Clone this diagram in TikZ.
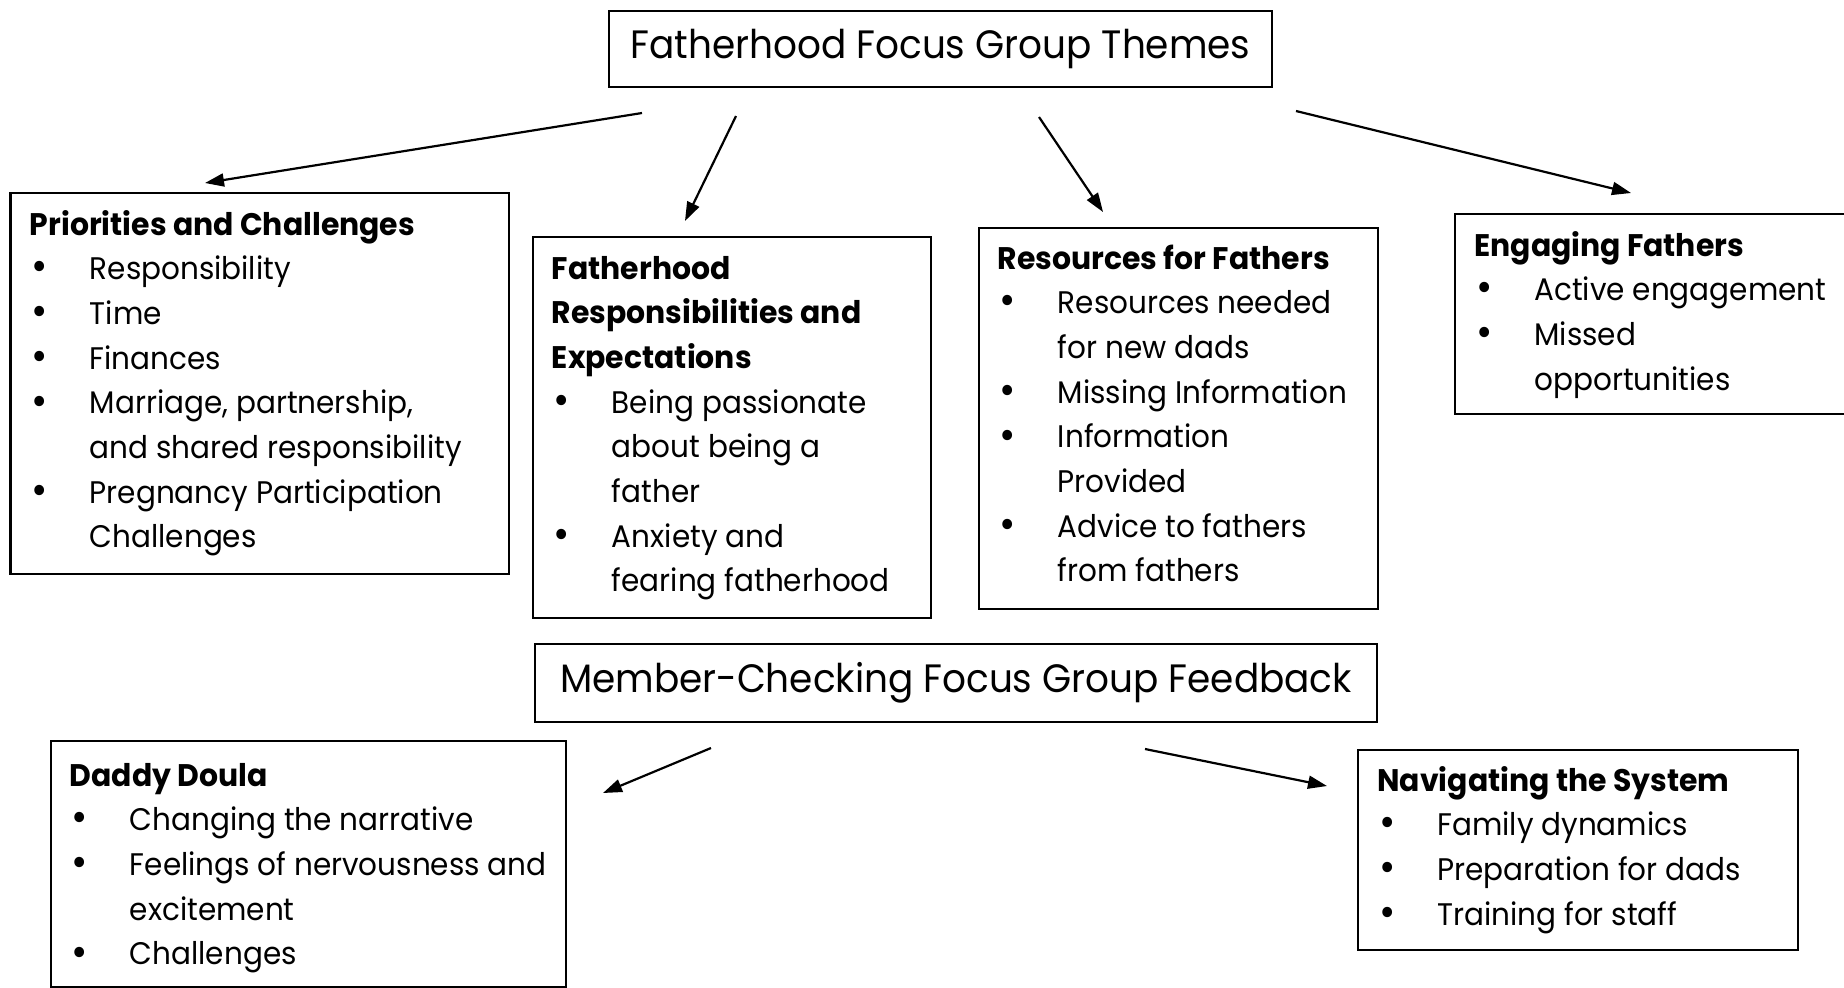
\documentclass[tikz,border=0pt]{standalone}
\usepackage{fontspec}
\setmainfont{Poppins}[FakeStretch=0.945, BoldFeatures={FakeStretch=0.958}]
\usetikzlibrary{arrows.meta,calc}
% one unit = one pixel of a 1844 x 987 canvas, y running downwards
\tikzset{
  x=0.5pt, y=-0.5pt,
  box/.style={draw=black, line width=1.1pt, rectangle, inner sep=0pt, anchor=north west},
  headbox/.style={draw=black, line width=1.1pt, rectangle, inner sep=0pt,
    font=\fontsize{19.8}{23}\selectfont},
  blocktext/.style={inner sep=0pt, anchor=base west, font=\fontsize{15.6}{22.35}\selectfont},
  arr/.style={line width=1.1pt, -{Triangle[length=9.5pt,width=6.5pt]}},
}
\newcommand{\bul}{\makebox[30pt][l]{\hspace{0.8pt}\raisebox{-0.6pt}{\fontsize{21}{0}\selectfont\textbullet}}}
\newcommand{\hd}[1]{\multicolumn{2}{@{}l@{}}{\bfseries #1}}

\begin{document}
\begin{tikzpicture}
\useasboundingbox (0,0) rectangle (1844,987);

% main theme headers
\node[headbox, minimum width=331.5pt, minimum height=38.2pt] (T) at (940.5,48.8)
  {Fatherhood Focus Group Themes};
\node[headbox, minimum width=421pt, minimum height=39pt] (M) at (956,683)
  {Member-Checking Focus Group Feedback};

% theme boxes
\node[box, minimum width=249.3pt, minimum height=190.5pt] (P) at (9.4,192) {};
\node[box, minimum width=199.25pt, minimum height=190.5pt] (F) at (531.5,236) {};
\node[box, minimum width=199.75pt, minimum height=190.5pt] (R) at (977.5,227) {};
\node[box, minimum width=200pt, minimum height=100pt] (E) at (1454,213) {};
\node[box, minimum width=257.75pt, minimum height=123pt] (D) at (49.5,740) {};
\node[box, minimum width=220pt, minimum height=100pt] (N) at (1357,749) {};

% box contents
\node[blocktext] (Pt) at ($(P.north west)+(20,43)$) {%
  \begin{tabular}[t]{@{}l@{}l@{}}
  \hd{Priorities and Challenges}\\
  \bul & Responsibility\\
  \bul & Time\\
  \bul & Finances\\
  \bul & Marriage, partnership,\\
       & and shared responsibility\\
  \bul & Pregnancy Participation\\
       & Challenges
  \end{tabular}};

\node[blocktext] (Ft) at ($(F.north west)+(20,43)$) {%
  \begin{tabular}[t]{@{}l@{}l@{}}
  \hd{Fatherhood}\\
  \hd{Responsibilities and}\\
  \hd{Expectations}\\
  \bul & Being passionate\\
       & about being a\\
       & father\\
  \bul & Anxiety and\\
       & fearing fatherhood
  \end{tabular}};

\node[blocktext] (Rt) at ($(R.north west)+(20,42)$) {%
  \begin{tabular}[t]{@{}l@{}l@{}}
  \hd{Resources for Fathers}\\
  \bul & Resources needed\\
       & for new dads\\
  \bul & Missing Information\\
  \bul & Information\\
       & Provided\\
  \bul & Advice to fathers\\
       & from fathers
  \end{tabular}};

\node[blocktext] (Et) at ($(E.north west)+(20,43)$) {%
  \begin{tabular}[t]{@{}l@{}l@{}}
  \hd{Engaging Fathers}\\
  \bul & Active engagement\\
  \bul & Missed\\
       & opportunities
  \end{tabular}};

\node[blocktext] (Dt) at ($(D.north west)+(20,46)$) {%
  \begin{tabular}[t]{@{}l@{}l@{}}
  \hd{Daddy Doula}\\
  \bul & Changing the narrative\\
  \bul & Feelings of nervousness and\\
       & excitement\\
  \bul & Challenges
  \end{tabular}};

\node[blocktext] (Nt) at ($(N.north west)+(20,42)$) {%
  \begin{tabular}[t]{@{}l@{}l@{}}
  \hd{Navigating the System}\\
  \bul & Family dynamics\\
  \bul & Preparation for dads\\
  \bul & Training for staff
  \end{tabular}};

% connector end points
\coordinate (a1s) at (642,113);  \coordinate (a1e) at (205,183);
\coordinate (a2s) at (736,116);  \coordinate (a2e) at (685,221);
\coordinate (a3s) at (1039,117); \coordinate (a3e) at (1103,212);
\coordinate (a4s) at (1296,111); \coordinate (a4e) at (1631,193);
\coordinate (a5s) at (711,748);  \coordinate (a5e) at (603,793);
\coordinate (a6s) at (1145,749); \coordinate (a6e) at (1327,786);

\draw[arr] (a1s) -- (a1e);
\draw[arr] (a2s) -- (a2e);
\draw[arr] (a3s) -- (a3e);
\draw[arr] (a4s) -- (a4e);
\draw[arr] (a5s) -- (a5e);
\draw[arr] (a6s) -- (a6e);
\end{tikzpicture}
\end{document}
